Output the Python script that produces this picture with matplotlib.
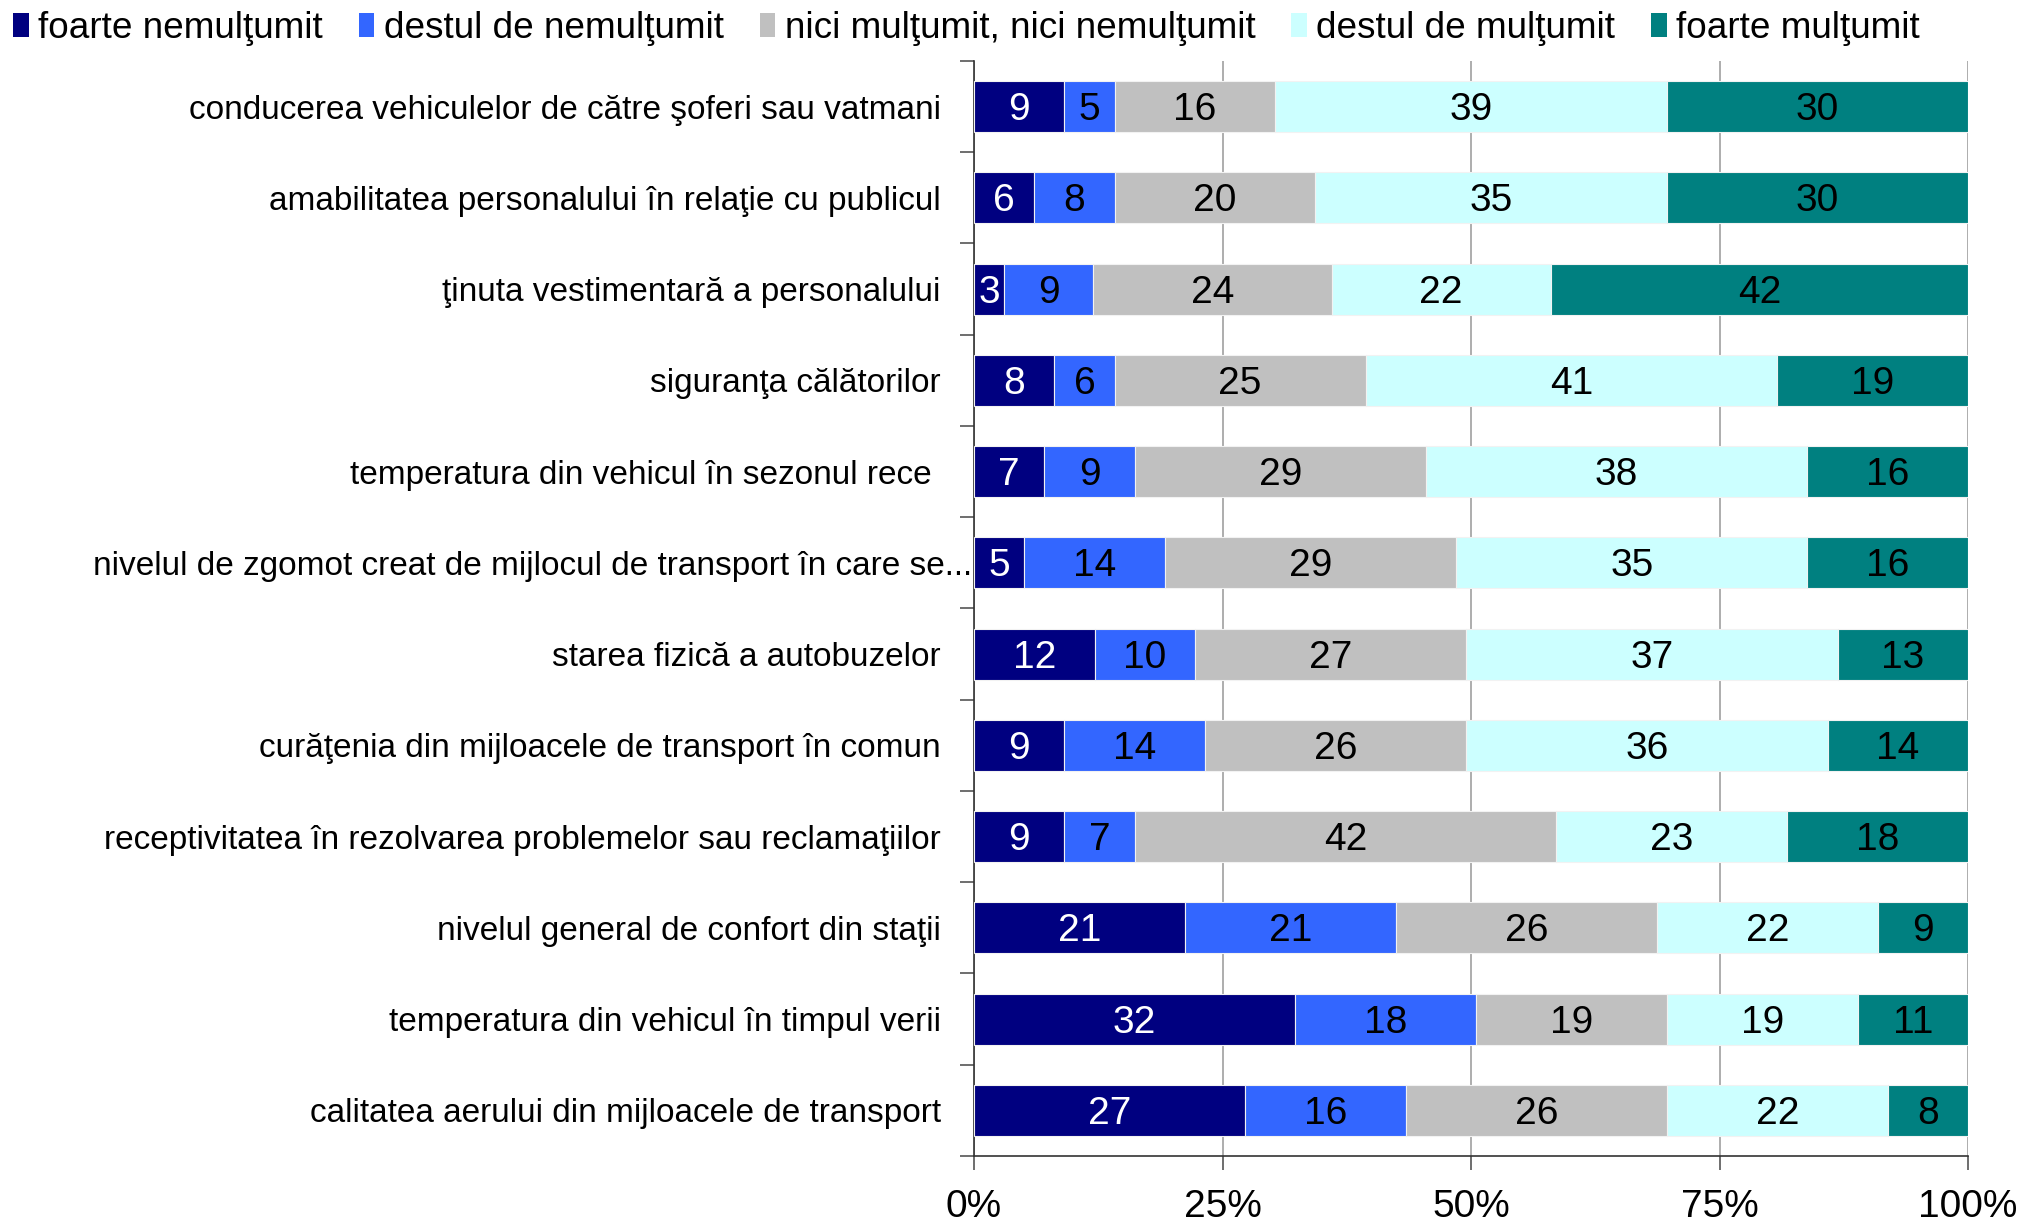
import matplotlib
matplotlib.use("Agg")
import matplotlib.pyplot as plt
from matplotlib.patches import Patch
from matplotlib.ticker import FixedLocator, PercentFormatter
import numpy as np

plt.rcParams['font.family'] = ['Liberation Sans', 'DejaVu Sans']

categories = [
    "conducerea vehiculelor de către şoferi sau vatmani",
    "amabilitatea personalului în relaţie cu publicul",
    "ţinuta vestimentară a personalului",
    "siguranţa călătorilor",
    "temperatura din vehicul în sezonul rece ",
    "nivelul de zgomot creat de mijlocul de transport în care se...",
    "starea fizică a autobuzelor",
    "curăţenia din mijloacele de transport în comun",
    "receptivitatea în rezolvarea problemelor sau reclamaţiilor",
    "nivelul general de confort din staţii",
    "temperatura din vehicul în timpul verii",
    "calitatea aerului din mijloacele de transport",
]
series = ["foarte nemulţumit", "destul de nemulţumit", "nici mulţumit, nici nemulţumit",
          "destul de mulţumit", "foarte mulţumit"]
foarte_nemultumit = [9, 6, 3, 8, 7, 5, 12, 9, 9, 21, 32, 27]
destul_nemultumit = [5, 8, 9, 6, 9, 14, 10, 14, 7, 21, 18, 16]
neutru = [16, 20, 24, 25, 29, 29, 27, 26, 42, 26, 19, 26]
destul_multumit = [39, 35, 22, 41, 38, 35, 37, 36, 23, 22, 19, 22]
foarte_multumit = [30, 30, 42, 19, 16, 16, 13, 14, 18, 9, 11, 8]
xticks = [0, 25, 50, 75, 100]

colors = ["#000080", "#3366FF", "#C0C0C0", "#CCFFFF", "#008080"]
text_colors = ["white", "black", "black", "black", "black"]

data = np.array([foarte_nemultumit, destul_nemultumit, neutru, destul_multumit, foarte_multumit], dtype=float)
pct = data / data.sum(axis=0) * 100

fig = plt.figure(figsize=(20.42, 12.24), dpi=100)
ax = fig.add_axes([0.477, 0.0556, 0.4868, 0.8946])
y = np.arange(len(categories))
left = np.zeros(len(categories))
for i in range(len(series)):
    bars = ax.barh(y, pct[i], left=left, height=0.56, color=colors[i],
                   edgecolor="#F2F2F2", linewidth=0.8, label=series[i], zorder=3)
    for j, b in enumerate(bars):
        ax.text(left[j] + pct[i][j] / 2, y[j] + 0.04, str(int(data[i][j])), ha="center", va="center",
                color=text_colors[i], fontsize=28, zorder=4)
    left += pct[i]

ax.set_ylim(len(categories) - 0.5, -0.5)
ax.set_xlim(0, 100)
ax.set_yticks(y)
ax.set_yticklabels(categories, fontsize=24)
ax.yaxis.set_minor_locator(FixedLocator(np.arange(-0.5, len(categories), 1)))
ax.tick_params(axis="y", which="major", length=0, pad=24)
ax.tick_params(axis="y", which="minor", length=10, width=1.2, color="#555555", direction="out")
# the truncated label reaches almost up to the axis
ax.yaxis.get_major_ticks()[5].set_pad(1.5)
ax.set_xticks(xticks)
ax.xaxis.set_major_formatter(PercentFormatter(decimals=0))
ax.tick_params(axis="x", length=10, width=1.2, labelsize=28, pad=14, color="#555555")
ax.grid(axis="x", color="#A0A0A0", linewidth=1.2, zorder=0)
ax.spines["top"].set_visible(False)
ax.spines["right"].set_visible(False)
ax.spines["left"].set_color("#333333")
ax.spines["bottom"].set_color("#333333")
ax.spines["left"].set_linewidth(1.2)
ax.spines["bottom"].set_linewidth(1.2)

handles = [Patch(facecolor=c, edgecolor="none") for c in colors]
fig.legend(handles, series, loc="upper left", bbox_to_anchor=(13 / 2042, 1 - 11 / 1224), ncol=5,
           frameon=False, fontsize=26.6, handlelength=0.42, handleheight=0.6, handletextpad=0.26,
           columnspacing=0.97, borderpad=0, borderaxespad=0)

fig.savefig("out.png", dpi=100)
